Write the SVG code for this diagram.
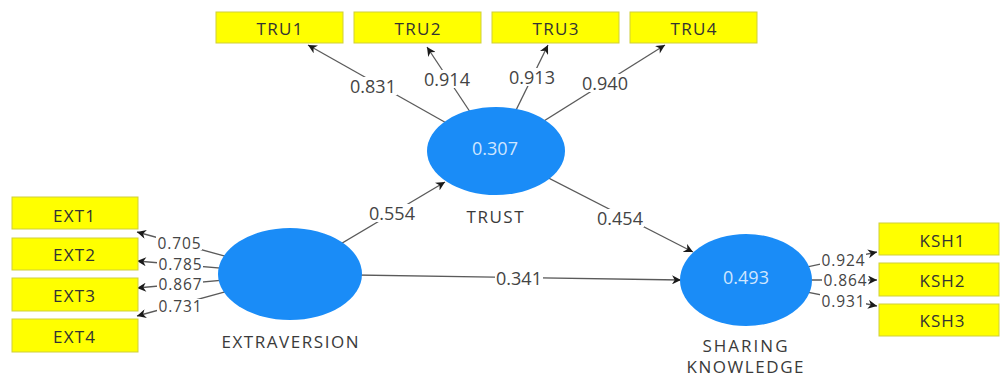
<svg xmlns="http://www.w3.org/2000/svg" width="1000" height="376" viewBox="0 0 1000 376">
  <defs>
    <marker id="arrow" viewBox="0 0 10 10" refX="10" refY="5" markerWidth="10" markerHeight="9" markerUnits="userSpaceOnUse" orient="auto">
      <path d="M0,0 L10,5 L0,10 L3,5 z" fill="#1a1a1a"/>
    </marker>
    <style>
      .edge { stroke: #5a5a5a; stroke-width: 1.3; fill: none; marker-end: url(#arrow); }
      .ind rect { fill: #ffff00; stroke: #cfcf3a; stroke-width: 1; }
      .ind text { font-family: "Open Sans", "Noto Sans", sans-serif; font-size: 17px; fill: #333; text-anchor: middle; }
      .lv ellipse { fill: #1a8cf7; }
      .lv .r2 { font-family: "Open Sans", "Noto Sans", sans-serif; font-size: 18px; fill: #cfe6ff; text-anchor: middle; }
      .lv .name { font-family: "Open Sans", "Noto Sans", sans-serif; font-size: 17px; fill: #3a3a3a; text-anchor: middle; }
      .lbl rect { fill: #ffffff; }
      .lbl text { font-family: "Open Sans", "Noto Sans", sans-serif; font-size: 18px; fill: #444; text-anchor: middle; }
      .lbl .stack { font-size: 15.5px; }
    </style>
  </defs>

  <!-- connectors: drawn first so ellipses and labels sit on top -->
  <g id="connectors">
    <!-- TRUST outer loadings -->
    <line class="edge" x1="496" y1="151" x2="308" y2="45"/>
    <line class="edge" x1="496" y1="151" x2="427" y2="47"/>
    <line class="edge" x1="496" y1="151" x2="548" y2="45"/>
    <line class="edge" x1="496" y1="151" x2="665" y2="45"/>
    <!-- EXTRAVERSION outer loadings -->
    <line class="edge" x1="290" y1="274" x2="137" y2="232"/>
    <line class="edge" x1="290" y1="274" x2="137" y2="261"/>
    <line class="edge" x1="290" y1="274" x2="137" y2="288"/>
    <line class="edge" x1="290" y1="274" x2="137" y2="316"/>
    <!-- SHARING KNOWLEDGE outer loadings -->
    <line class="edge" x1="746" y1="280" x2="877" y2="252"/>
    <line class="edge" x1="746" y1="280" x2="877" y2="280"/>
    <line class="edge" x1="746" y1="280" x2="877" y2="306"/>
    <!-- structural paths -->
    <line class="edge" x1="290" y1="274" x2="445" y2="182"/>
    <line class="edge" x1="496" y1="151" x2="693" y2="252"/>
    <line class="edge" x1="290" y1="274" x2="681" y2="280"/>

    <!-- path coefficients / loadings -->
    <g class="lbl">
      <rect x="349" y="77" width="48" height="18"/><text x="373" y="92.5">0.831</text>
      <rect x="423" y="70" width="48" height="18"/><text x="447" y="85.5">0.914</text>
      <rect x="508" y="68" width="48" height="18"/><text x="532" y="83.5">0.913</text>
      <rect x="581" y="74" width="48" height="18"/><text x="605" y="89.5">0.940</text>

      <rect x="156" y="236" width="46" height="14"/><text class="stack" x="179" y="248.5" textLength="43">0.705</text>
      <rect x="157" y="257" width="46" height="14"/><text class="stack" x="180" y="269.5" textLength="43">0.785</text>
      <rect x="157" y="277" width="46" height="14"/><text class="stack" x="180" y="289.5" textLength="43">0.867</text>
      <rect x="157" y="299" width="46" height="14"/><text class="stack" x="180" y="311.5" textLength="43">0.731</text>

      <rect x="820" y="253" width="46" height="14"/><text class="stack" x="843" y="265.5" textLength="43">0.924</text>
      <rect x="822" y="273" width="46" height="14"/><text class="stack" x="845" y="285.5" textLength="43">0.864</text>
      <rect x="820" y="294" width="46" height="14"/><text class="stack" x="843" y="306.5" textLength="43">0.931</text>

      <rect x="368" y="204" width="48" height="18"/><text x="392" y="219.5">0.554</text>
      <rect x="596" y="209" width="48" height="18"/><text x="620" y="224.5">0.454</text>
      <rect x="495" y="269" width="48" height="18"/><text x="519" y="284.5">0.341</text>
    </g>
  </g>

  <!-- latent variables -->
  <g id="trust" class="lv">
    <ellipse cx="496" cy="151" rx="69" ry="44"/>
    <text class="r2" x="495" y="154.5">0.307</text>
    <text class="name" x="495" y="223" textLength="57" lengthAdjust="spacing">TRUST</text>
  </g>
  <g id="extraversion" class="lv">
    <ellipse cx="290" cy="274" rx="72" ry="46"/>
    <text class="name" x="290" y="348" textLength="137" lengthAdjust="spacing">EXTRAVERSION</text>
  </g>
  <g id="sharing-knowledge" class="lv">
    <ellipse cx="746" cy="280" rx="66" ry="46"/>
    <text class="r2" x="746" y="283.5">0.493</text>
    <text class="name" x="745" y="352" textLength="85" lengthAdjust="spacing">SHARING</text>
    <text class="name" x="745" y="373" textLength="117" lengthAdjust="spacing">KNOWLEDGE</text>
  </g>

  <!-- indicators -->
  <g id="tru1" class="ind"><rect x="216" y="12" width="127" height="31"/><text x="279.5" y="35" textLength="46" lengthAdjust="spacing">TRU1</text></g>
  <g id="tru2" class="ind"><rect x="354" y="12" width="127" height="31"/><text x="417.5" y="35" textLength="46" lengthAdjust="spacing">TRU2</text></g>
  <g id="tru3" class="ind"><rect x="492" y="12" width="127" height="31"/><text x="555.5" y="35" textLength="46" lengthAdjust="spacing">TRU3</text></g>
  <g id="tru4" class="ind"><rect x="630" y="12" width="127" height="31"/><text x="693.5" y="35" textLength="46" lengthAdjust="spacing">TRU4</text></g>

  <g id="ext1" class="ind"><rect x="12" y="197" width="126" height="32"/><text x="74" y="221.5" textLength="42" lengthAdjust="spacing">EXT1</text></g>
  <g id="ext2" class="ind"><rect x="12" y="238" width="126" height="32"/><text x="74" y="261" textLength="42" lengthAdjust="spacing">EXT2</text></g>
  <g id="ext3" class="ind"><rect x="12" y="278" width="126" height="33"/><text x="74" y="301.5" textLength="42" lengthAdjust="spacing">EXT3</text></g>
  <g id="ext4" class="ind"><rect x="12" y="319" width="126" height="33"/><text x="74" y="342.5" textLength="42" lengthAdjust="spacing">EXT4</text></g>

  <g id="ksh1" class="ind"><rect x="879" y="223" width="120" height="32"/><text x="942" y="247" textLength="45" lengthAdjust="spacing">KSH1</text></g>
  <g id="ksh2" class="ind"><rect x="879" y="263" width="120" height="33"/><text x="942" y="286.5" textLength="45" lengthAdjust="spacing">KSH2</text></g>
  <g id="ksh3" class="ind"><rect x="879" y="304" width="120" height="32"/><text x="942" y="326.5" textLength="45" lengthAdjust="spacing">KSH3</text></g>
</svg>
